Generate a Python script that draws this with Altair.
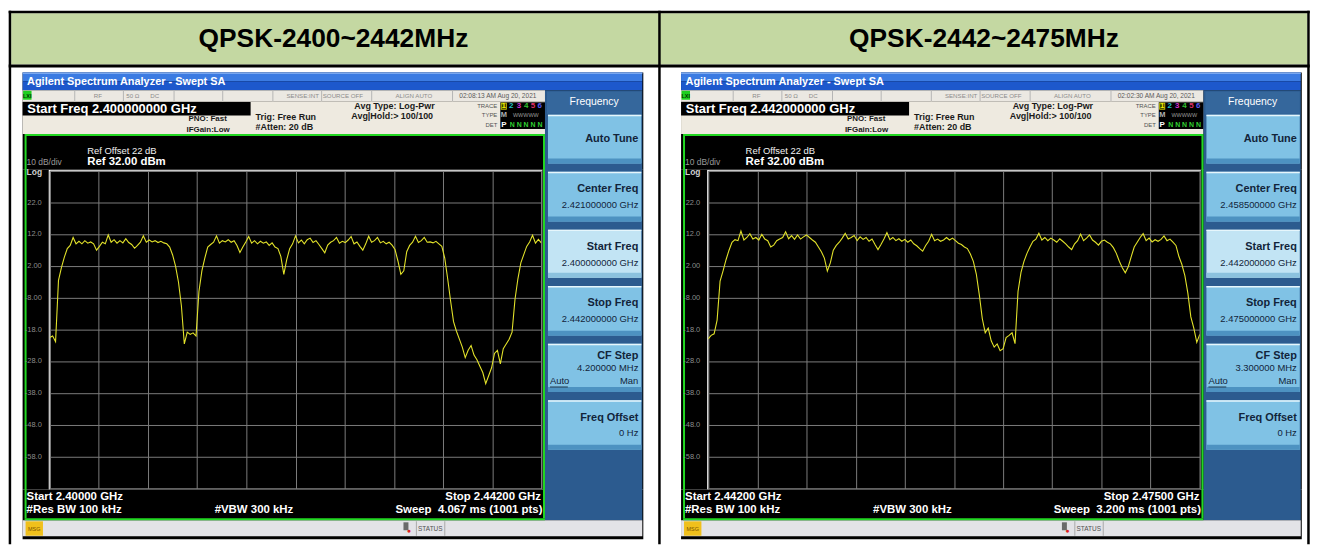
import altair as alt
import numpy as np
import pandas as pd

# ---------------- data ----------------
left_start_mhz, left_step_mhz = 2400.0, 0.25
left_dbm = [
    -20.5, -20.0, -21.8, -2.5, 1.5, 4.8, 7.5, 8.5, 11.0, 9.0,
    9.8, 9.0, 10.0, 9.2, 9.6, 9.0, 7.0, 8.2, 9.5, 9.0,
    11.8, 9.5, 10.3, 9.2, 10.0, 9.3, 10.6, 9.4, 8.8, 7.6,
    8.5, 9.5, 11.5, 9.5, 10.2, 9.6, 10.0, 9.4, 9.8, 9.3,
    9.0, 8.0, 5.5, 2.0, -3.0, -10.5, -22.5, -18.8, -19.5, -19.0,
    -20.0, -6.0, 0.5, 4.5, 8.0, 8.8, 9.5, 11.5, 9.2, 10.0,
    9.6, 10.3, 9.5, 10.0, 8.5, 6.3, 8.0, 9.6, 11.3, 9.2,
    10.0, 9.0, 9.8, 9.2, 9.6, 8.5, 9.3, 8.0, 7.5, 5.0,
    -0.6, 4.0, 7.5, 9.0, 11.5, 9.3, 10.2, 9.0, 10.3, 10.8,
    9.4, 10.0, 8.8, 7.5, 6.2, 8.6, 9.5, 10.0, 11.0, 9.2,
    9.8, 9.4, 10.2, 11.3, 9.0, 9.6, 8.2, 7.0, 9.0, 11.4,
    9.5, 10.0, 11.0, 9.3, 9.8, 9.0, 9.5, 8.6, 7.2, 3.6,
    -0.6, 0.5, 6.5, 8.5, 9.5, 11.4, 9.4, 10.0, 11.0, 9.5,
    9.6, 9.3, 9.8, 9.0, 8.2, 4.5, -2.0, -9.0, -15.5, -18.5,
    -21.0, -23.5, -26.8, -24.5, -23.0, -26.0, -27.5, -29.5, -31.5, -35.0,
    -32.5, -30.0, -25.5, -24.5, -28.8, -24.0, -22.5, -21.0, -18.8, -8.5,
    -2.0, 3.0, 5.6, 8.2, 9.6, 11.7, 9.2, 10.4, 9.3,
]
right_start_mhz, right_step_mhz = 2442.0, 0.2
right_dbm = [
    -20.9, -19.8, -19.3, -15.0, -2.7, 0.5, 4.0, 7.0, 9.5, 10.3,
    10.0, 13.0, 10.2, 11.0, 12.2, 10.5, 11.0, 10.2, 12.0, 10.5,
    10.0, 8.0, 8.6, 10.0, 10.5, 11.0, 12.8, 10.6, 11.6, 10.4,
    11.8, 10.5, 11.2, 11.8, 11.0, 10.2, 9.5, 8.0, 6.5, 4.5,
    0.4, 3.0, 7.0, 8.5, 9.5, 10.8, 12.3, 10.5, 11.0, 11.6,
    10.0, 11.2, 10.4, 11.0, 9.8, 10.5, 8.8, 7.2, 8.8, 10.5,
    12.5, 10.3, 11.0, 10.0, 10.6, 9.8, 10.4, 9.5, 10.2, 9.0,
    8.4, 7.5, 6.7, 8.5, 9.8, 12.0, 10.0, 10.5, 9.8, 10.2,
    11.0, 10.2, 10.8, 10.0, 9.2, 8.8, 8.0, 7.5, 5.8, 3.5,
    -0.5, -7.0, -14.5, -19.0, -17.5, -21.5, -23.5, -22.5, -24.6, -24.0,
    -20.5, -19.8, -19.0, -22.4, -6.0, 0.0, 3.5, 6.0, 8.0, 9.8,
    10.5, 12.3, 10.2, 11.0, 10.0, 10.8, 10.2, 9.5, 10.6, 9.8,
    9.0, 8.0, 7.2, 9.0, 10.0, 12.1, 10.0, 10.8, 11.8, 10.2,
    9.5, 8.6, 9.8, 10.2, 9.5, 9.0, 7.8, 6.0, 3.5, 1.5,
    -0.1, 1.8, 5.0, 8.0, 9.5, 11.0, 12.2, 10.0, 10.8, 9.6,
    10.3, 9.8, 10.4, 11.5, 10.0, 10.5, 9.5, 8.5, 5.0, 2.5,
    -1.0, -6.5, -14.0, -17.5, -22.0, -19.5,
]

y_grid_values = [32, 22, 12, 2, -8, -18, -28, -38, -48, -58, -68]
y_grid_labels = ["", "22.0", "12.0", "2.00", "-8.00", "-18.0", "-28.0", "-38.0", "-48.0", "-58.0", ""]

panel_titles = ["QPSK-2400~2442MHz", "QPSK-2442~2475MHz"]
span_start = [2400.0, 2442.0]
span_stop = [2442.0, 2475.0]
timestamps = ["02:08:13 AM Aug 20, 2021", "02:02:30 AM Aug 20, 2021"]
start_freq_txt = ["2.400000000 GHz", "2.442000000 GHz"]
center_freq_txt = ["2.421000000 GHz", "2.458500000 GHz"]
stop_freq_txt = ["2.442000000 GHz", "2.475000000 GHz"]
cf_step_txt = ["4.200000 MHz", "3.300000 MHz"]
start_short = ["Start 2.40000 GHz", "Start 2.44200 GHz"]
stop_short = ["Stop 2.44200 GHz", "Stop 2.47500 GHz"]
sweep_txt = ["4.067 ms (1001 pts)", "3.200 ms (1001 pts)"]

traces = [
    (left_start_mhz, left_step_mhz, left_dbm),
    (right_start_mhz, right_step_mhz, right_dbm),
]

# ---------------- layout (pixels) ----------------
FONT = "Liberation Sans"
GX, GY, GW, GH = 49.3, 169.0, 495.0, 320.0   # grid area of left screen (page coords)
DX = 656.0                                      # offset of right screen
SPACING_FIX = 7.0


def rect(lst, x1, y1, x2, y2, c):
    lst.append({"x": x1 - GX, "x2": x2 - GX, "y": y1 - GY, "y2": y2 - GY, "c": c})


def ring(lst, outer, inner, c):
    ox1, oy1, ox2, oy2 = outer
    ix1, iy1, ix2, iy2 = inner
    rect(lst, ox1, oy1, ox2, iy1, c)
    rect(lst, ox1, iy2, ox2, oy2, c)
    rect(lst, ox1, iy1, ix1, iy2, c)
    rect(lst, ix2, iy1, ox2, iy2, c)


def text(lst, x, y, t, size, color, weight="normal", align="left", style="normal"):
    lst.append({"x": x - GX, "y": y - GY, "t": t, "s": size, "c": color,
                "w": weight, "a": align, "st": style})


def panel(k):
    R, T = [], []
    if k == 0:
        rect(R, 10.5, 10.5, 1315.5, 62, "#c4d8a2")
        rect(R, 8, 8, 1318, 10.5, "#000000")
        rect(R, 8, 62, 1318, 65, "#000000")
        rect(R, 8, 8, 10.5, 545, "#000000")
        rect(R, 662, 8, 664.5, 545, "#000000")
        rect(R, 1315.5, 8, 1318, 545, "#000000")
        text(T, 335, 36, panel_titles[0], 26.5, "#000000", "bold", "center")
        text(T, 990, 36, panel_titles[1], 26.5, "#000000", "bold", "center")

    # instrument frame with a hole for the graticule
    ring(R, (22, 70, 647, 540), (GX - 1, GY - 1, GX + GW + 1, GY + GH + 1), "#000000")
    # title bar
    rect(R, 22, 70, 646, 79, "#3b7be2")
    rect(R, 22, 79, 646, 88, "#1d58cc")
    rect(R, 22, 70, 646, 71.5, "#7aa8f0")
    # status row
    rect(R, 22, 88, 548, 99, "#ebe8e2")
    for sx in [74, 123, 174, 223, 273.5, 322.6, 373, 454.4]:
        rect(R, sx, 88, sx + 1, 99, "#b5b5b5")
    rect(R, 22.5, 88.5, 31, 97.5, "#1fcf1f")
    # info area
    rect(R, 22, 99, 548, 132, "#eeeae0")
    rect(R, 22, 99.7, 251.6, 113.3, "#000000")
    rect(R, 503, 100, 548, 127, "#000000")
    rect(R, 503.5, 100.5, 509.5, 107.5, "#d8d800")
    rect(R, 504.3, 101.3, 508.7, 106.7, "#3c3c00")
    # softkey panel
    rect(R, 548, 88, 646, 521, "#2c5b8f")
    rect(R, 550, 89.3, 645, 111.7, "#35679c")
    buttons = [
        (112.7, 161.7, "Auto Tune", None, False),
        (170.0, 220.0, "Center Freq", center_freq_txt[k], False),
        (228.3, 276.7, "Start Freq", start_freq_txt[k], True),
        (285.0, 335.0, "Stop Freq", stop_freq_txt[k], False),
        (343.3, 391.7, "CF Step", cf_step_txt[k], False),
        (400.0, 450.0, "Freq Offset", "0 Hz", False),
    ]
    for (y1, y2, lab, val, sel) in buttons:
        rect(R, 551, y1, 645, y2, "#c2e4f4" if sel else "#80c2e5")
        rect(R, 551, y2 - 5, 645, y2, "#8cc2de" if sel else "#4d92c1")
        rect(R, 551, y1, 645, y1 + 1.5, "#e6f6fc")
    # status bar
    rect(R, 22, 521, 646, 537, "#e3e3e7")
    rect(R, 25, 522, 42.5, 536.5, "#f0c01c")
    rect(R, 418, 522, 419, 536.5, "#a8a8a8")
    rect(R, 446.6, 522, 447.6, 536.5, "#a8a8a8")
    rect(R, 405.5, 523, 410.5, 531, "#6a6a6a")
    # green screen border
    ring(R, (24, 132, 548, 521), (26, 134, 546, 519), "#22d822")
    # underline of "Auto"
    rect(R, 553, 386.3, 571, 387.2, "#1a2a3a")

    # ---- texts ----
    text(T, 26.5, 79.5, "Agilent Spectrum Analyzer - Swept SA", 11, "#ffffff", "bold", "left")
    text(T, 26.7, 93.5, "LXI", 5.5, "#003300", "bold", "center")
    for cx, s in [(97.8, "RF"), (133, "50 \u03a9"), (155, "DC"), (304, "SENSE:INT"),
                  (344.5, "SOURCE OFF"), (416, "ALIGN AUTO")]:
        text(T, cx, 93.7, s, 6.2, "#8c8c8c", "normal", "center")
    text(T, 500.5, 93.7, timestamps[k], 6.6, "#5a5a5a", "normal", "center")
    text(T, 26.8, 106.5, "Start Freq " + start_freq_txt[k], 13, "#ffffff", "bold")
    dark = "#1a1a1a"
    text(T, 189, 117.3, "PNO: Fast", 8, dark, "bold")
    text(T, 187, 127.5, "IFGain:Low", 8, dark, "bold")
    text(T, 256.6, 114.6, "Trig: Free Run", 9, dark, "bold")
    text(T, 256.6, 125, "#Atten: 20 dB", 9, dark, "bold")
    text(T, 356, 103.8, "Avg Type: Log-Pwr", 9, dark, "bold")
    text(T, 353, 114, "Avg|Hold:> 100/100", 9, dark, "bold")
    text(T, 500, 104, "TRACE", 6, "#555555", "normal", "right")
    text(T, 500, 113.3, "TYPE", 6, "#555555", "normal", "right")
    text(T, 500, 122.7, "DET", 6, "#555555", "normal", "right")
    for cx, d, col in [(506.5, "1", "#f0f000"), (514, "2", "#20c0c8"), (521.7, "3", "#d030d0"),
                       (529, "4", "#30c030"), (536, "5", "#e0306a"), (542.7, "6", "#5a5af0")]:
        text(T, cx, 104, d, 8, col, "bold", "center")
    text(T, 506.5, 113.3, "M", 7.5, "#b0b0b0", "bold", "center")
    text(T, 528.7, 113.3, "WWWWW", 5.5, "#9a9a9a", "normal", "center")
    text(T, 506.5, 122.7, "P", 8, "#ffffff", "bold", "center")
    text(T, 529, 122.7, "N N N N N", 7, "#30d030", "bold", "center")

    text(T, 87, 149, "Ref Offset 22 dB", 9.5, "#f0f0f0")
    text(T, 87, 160.4, "Ref 32.00 dBm", 11.5, "#ffffff", "bold")
    text(T, 26, 160.5, "10 dB/div", 8.5, "#9a9a9a")
    text(T, 26, 170.5, "Log", 8.5, "#d0d0d0", "bold")
    text(T, 26, 497.5, start_short[k], 11.5, "#ffffff", "bold")
    text(T, 26, 511, "#Res BW 100 kHz", 11.5, "#ffffff", "bold")
    text(T, 215.4, 511, "#VBW 300 kHz", 11.5, "#ffffff", "bold")
    text(T, 544, 497.5, stop_short[k], 11.5, "#ffffff", "bold", "right")
    text(T, 545.5, 511, "Sweep\u00a0\u00a0" + sweep_txt[k], 11.5, "#ffffff", "bold", "right")

    text(T, 597.5, 100, "Frequency", 10.5, "#ffffff", "normal", "center")
    navy = "#12243a"
    for (y1, y2, lab, val, sel) in buttons:
        if val is None:
            text(T, 642, (y1 + y2) / 2, lab, 11, navy, "bold", "right")
        elif lab == "CF Step":
            text(T, 642, y1 + 12.7, lab, 11, navy, "bold", "right")
            text(T, 642, y1 + 24, val, 9.5, navy, "normal", "right")
            text(T, 553, y1 + 37.7, "Auto", 9.5, navy, "normal", "left")
            text(T, 642, y1 + 37.7, "Man", 9.5, navy, "normal", "right")
        else:
            text(T, 642, y1 + 17.5, lab, 11, navy, "bold", "right")
            text(T, 642, y1 + 33.5, val, 9.5, navy, "normal", "right")

    text(T, 33.7, 529.3, "MSG", 5.5, "#7a5200", "normal", "center")
    text(T, 432.5, 529.3, "STATUS", 6.5, "#505050", "normal", "center")
    text(T, 411, 531.5, "\u25cf", 7, "#e02020", "normal", "center")

    # ---- layers ----
    rect_layer = alt.Chart(pd.DataFrame(R)).mark_rect(strokeWidth=0).encode(
        x=alt.X("x:Q", scale=None, axis=None), x2="x2:Q",
        y=alt.Y("y:Q", scale=None, axis=None), y2="y2:Q",
        color=alt.Color("c:N", scale=None, legend=None),
    )
    tdf = pd.DataFrame(T)
    text_layers = []
    for (w, a, st), g in tdf.groupby(["w", "a", "st"]):
        text_layers.append(
            alt.Chart(g.reset_index(drop=True)).mark_text(
                align=a, baseline="middle", fontWeight=w, fontStyle=st, font=FONT
            ).encode(
                x=alt.X("x:Q", scale=None, axis=None),
                y=alt.Y("y:Q", scale=None, axis=None),
                text="t:N",
                color=alt.Color("c:N", scale=None, legend=None),
                size=alt.Size("s:Q", scale=None, legend=None),
            )
        )

    start, step, vals = traces[k]
    tr = pd.DataFrame({"f": start + step * np.arange(len(vals)), "v": vals})
    xticks = [float(v) for v in np.linspace(span_start[k], span_stop[k], 11)]
    x_enc = alt.X("f:Q", scale=alt.Scale(domain=[span_start[k], span_stop[k]], nice=False, zero=False),
                  axis=alt.Axis(values=xticks, grid=True, labels=False, ticks=False, domain=False,
                                title=None, gridColor="#7c7c7c", gridWidth=1, gridOpacity=1))
    y_enc = alt.Y("v:Q", scale=alt.Scale(domain=[-68, 32], nice=False, zero=False),
                  axis=alt.Axis(values=y_grid_values, grid=True, labels=False, ticks=False, domain=False,
                                title=None, gridColor="#7c7c7c", gridWidth=1, gridOpacity=1))
    trace = alt.Chart(tr).mark_line(color="#e2e22a", strokeWidth=1.1, clip=True).encode(x=x_enc, y=y_enc)
    ylab = alt.Chart(pd.DataFrame({"v": y_grid_values, "lab": y_grid_labels})).mark_text(
        align="right", baseline="middle", fontSize=7.5, color="#8c8c8c", font=FONT
    ).encode(y=y_enc, x=alt.value(-8), text="lab:N")

    return alt.layer(rect_layer, *text_layers, ylab, trace).properties(width=GW, height=GH)


chart = alt.HConcatChart(
    hconcat=[panel(0), panel(1)], spacing=DX - GW + SPACING_FIX, bounds="flush"
).properties(padding=0, background="white").configure_view(
    fill="black", stroke="#a4a4a4", strokeWidth=1
)

chart.save("out.html", embed_options={"renderer": "svg", "actions": False})
